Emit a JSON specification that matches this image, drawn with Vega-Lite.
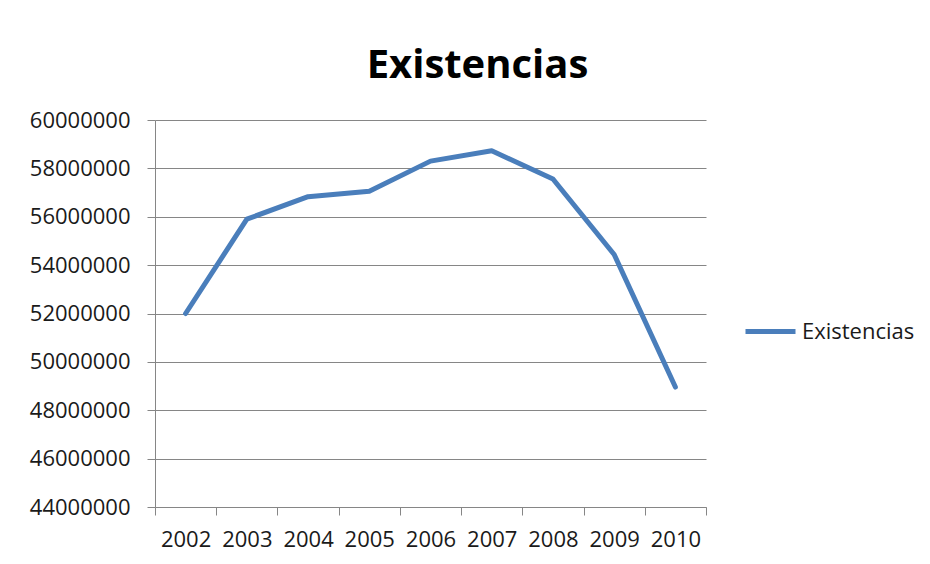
{
  "$schema": "https://vega.github.io/schema/vega-lite/v6.json",
  "autosize": "none",
  "width": 551,
  "height": 387,
  "padding": {"left": 155, "top": 120, "right": 224, "bottom": 57},
  "background": "white",
  "title": {
    "text": "Existencias",
    "font": "Open Sans",
    "fontWeight": "bold",
    "fontSize": 40,
    "color": "#000000",
    "anchor": "middle",
    "frame": "group",
    "baseline": "alphabetic",
    "offset": 43,
    "dx": 47,
    "dy": 52
  },
  "data": {
    "values": [
      {"anio": "2002", "valor": 52000000, "serie": "Existencias"},
      {"anio": "2003", "valor": 55900000, "serie": "Existencias"},
      {"anio": "2004", "valor": 56830000, "serie": "Existencias"},
      {"anio": "2005", "valor": 57050000, "serie": "Existencias"},
      {"anio": "2006", "valor": 58300000, "serie": "Existencias"},
      {"anio": "2007", "valor": 58730000, "serie": "Existencias"},
      {"anio": "2008", "valor": 57560000, "serie": "Existencias"},
      {"anio": "2009", "valor": 54440000, "serie": "Existencias"},
      {"anio": "2010", "valor": 48960000, "serie": "Existencias"}
    ]
  },
  "mark": {"type": "line", "strokeWidth": 5, "strokeCap": "round", "strokeJoin": "round"},
  "encoding": {
    "x": {
      "field": "anio",
      "type": "ordinal",
      "bandPosition": 0.5,
      "scale": {"type": "band", "paddingInner": 0, "paddingOuter": 0},
      "axis": {
        "title": null,
        "tickBand": "extent",
        "labelAngle": 0,
        "labelFont": "Open Sans",
        "labelFontSize": 22,
        "labelColor": "#1a1a1a",
        "labelPadding": 14,
        "tickSize": 8,
        "tickColor": "#868686",
        "domainColor": "#868686",
        "grid": false
      }
    },
    "y": {
      "field": "valor",
      "type": "quantitative",
      "scale": {"domain": [44000000, 60000000], "nice": false, "zero": false},
      "axis": {
        "title": null,
        "values": [44000000, 46000000, 48000000, 50000000, 52000000, 54000000, 56000000, 58000000, 60000000],
        "format": "d",
        "labelFont": "Open Sans",
        "labelFontSize": 22,
        "labelColor": "#1a1a1a",
        "labelPadding": 17,
        "tickSize": 8,
        "tickColor": "#868686",
        "domainColor": "#868686",
        "grid": true,
        "gridColor": "#868686",
        "gridOpacity": 1
      }
    },
    "color": {
      "field": "serie",
      "type": "nominal",
      "scale": {"range": ["#4A7EBB"]},
      "legend": {
        "title": null,
        "orient": "none",
        "legendX": 588,
        "legendY": 184,
        "symbolType": "stroke",
        "symbolSize": 2500,
        "symbolStrokeWidth": 5,
        "labelFont": "Open Sans",
        "labelFontSize": 22,
        "labelColor": "#1a1a1a",
        "labelOffset": 4
      }
    }
  },
  "config": {
    "view": {"stroke": null}
  }
}
